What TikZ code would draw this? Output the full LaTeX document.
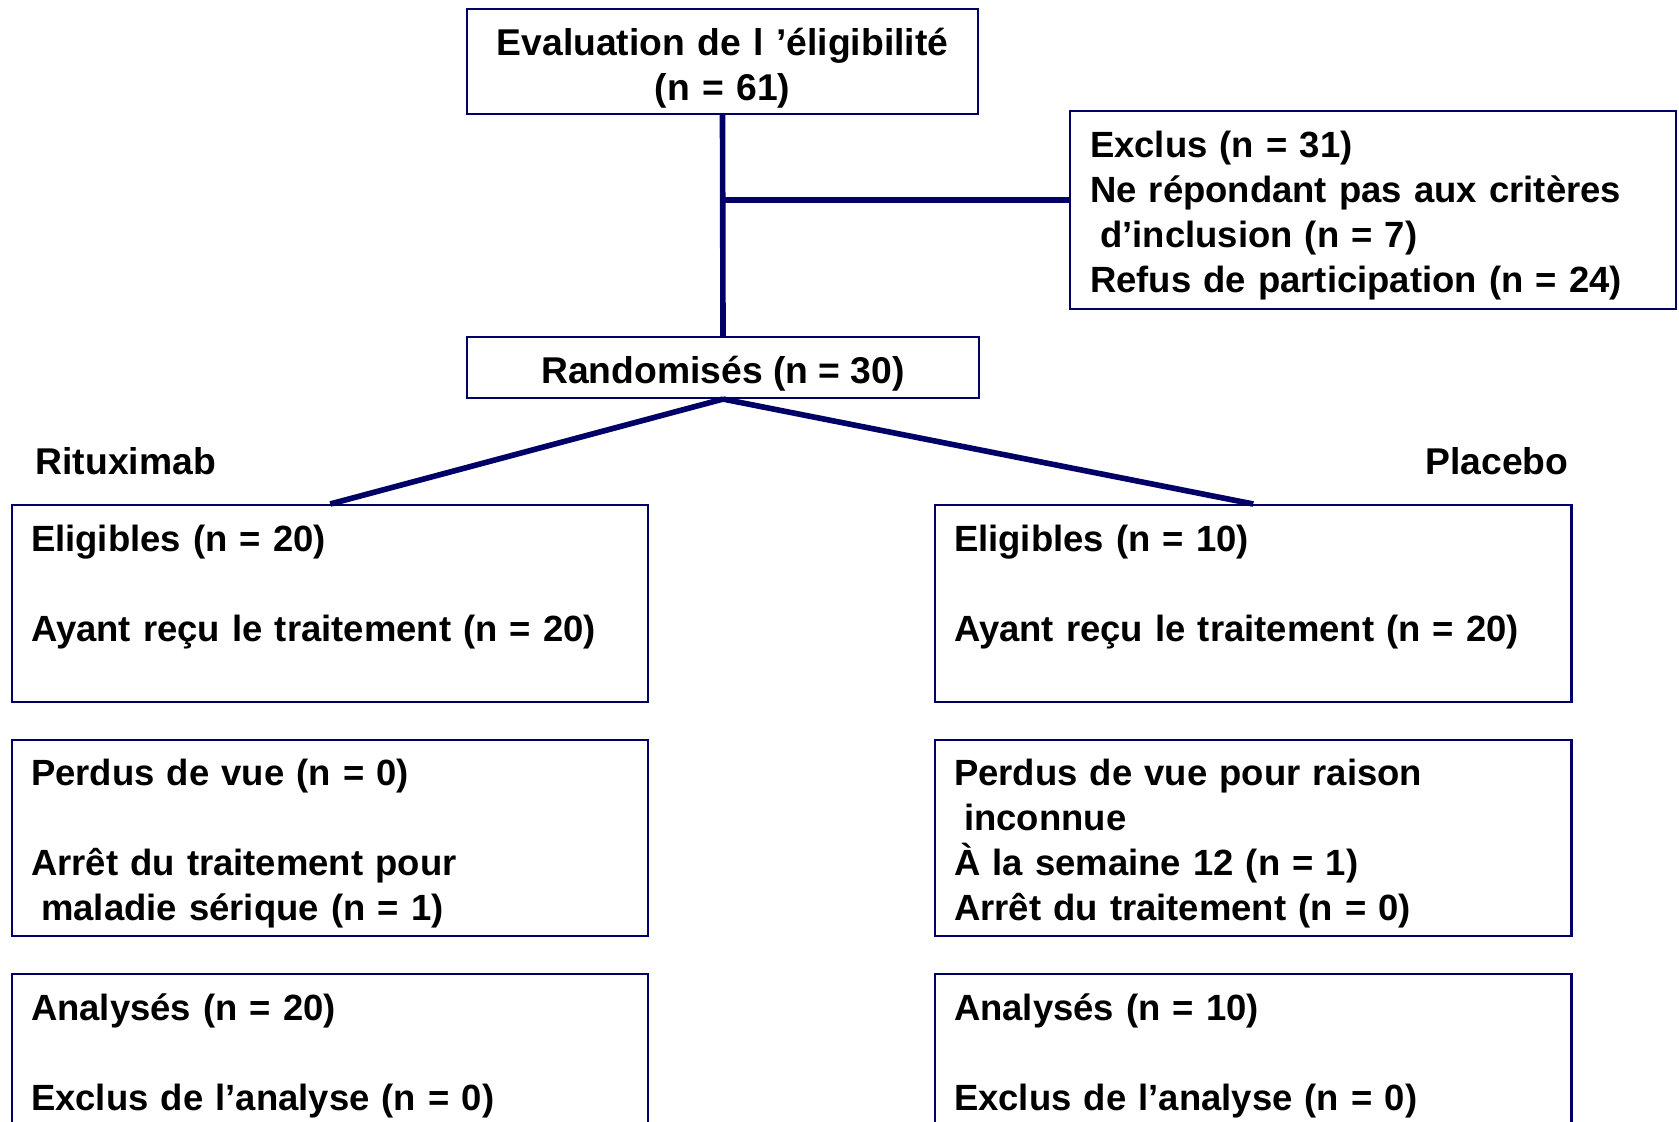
\documentclass[tikz,border=0pt]{standalone}
\usepackage{fontspec}
\setmainfont{Liberation Sans}
\usetikzlibrary{positioning}
\definecolor{bleunuit}{RGB}{0,0,102}

\begin{document}
\begin{tikzpicture}[
        x=0.01cm, y=-0.01cm,
        every node/.style={font=\fontsize{10.37pt}{12.76pt}\selectfont\bfseries},
        grand/.style={font=\fontsize{10.6pt}{12.76pt}\selectfont\bfseries},
        decal/.style={execute at begin node={\rule{0pt}{#1}}},
        boite/.style={draw=bleunuit, line width=0.6pt, rectangle, inner ysep=0pt},
        bloc/.style={boite, align=left, anchor=north west, inner xsep=0.19cm,
            text width=5.98cm, minimum height=1.97cm},
        trait/.style={draw=bleunuit, line width=1.6pt}
    ]
        % cadre de la page
        \useasboundingbox (0,0) rectangle (1679,1122);
        \clip (0,0) rectangle (1679,1122);

        % haut du diagramme
        \node[boite, grand, decal=1.07em, align=center, text width=4.6cm,
            minimum width=5.11cm, minimum height=1.05cm] (eval) at (722.5,61.5)
            {Evaluation de l ’éligibilité\\(n = 61)};
        \node[boite, decal=1.02em, align=left, anchor=north west, inner xsep=0.2cm,
            text width=5.66cm, minimum height=1.98cm] (excl) at (1069,110)
            {Exclus (n = 31)\\Ne répondant pas aux critères\\
             \hspace*{0.28em}d’inclusion (n = 7)\\Refus de participation (n = 24)};
        \node[boite, grand, decal=1.07em, align=center, minimum width=5.12cm,
            minimum height=0.61cm] (rand) at (723,367.5) {Randomisés (n = 30)};
        \coordinate (br) at (723,200);

        % deux bras
        \node[grand, anchor=west, inner sep=0pt] (ritu) at (35,461) {Rituximab};
        \node[grand, anchor=east, inner sep=0pt] (plac) at (1569,461) {Placebo};

        \node[bloc, decal=0.85em] (elig1) at (11,504)
            {Eligibles (n = 20)\\\mbox{}\\Ayant reçu le traitement (n = 20)\\\mbox{}};
        \node[bloc, decal=0.85em] (elig2) at (934,504)
            {Eligibles (n = 10)\\\mbox{}\\Ayant reçu le traitement (n = 20)\\\mbox{}};
        \node[bloc, decal=1.02em, minimum height=1.96cm] (perd1) at (11,739)
            {Perdus de vue (n = 0)\\\mbox{}\\Arrêt du traitement pour\\
             \hspace*{0.28em}maladie sérique (n = 1)};
        \node[bloc, decal=1.02em, minimum height=1.96cm] (perd2) at (934,739)
            {Perdus de vue pour raison\\\hspace*{0.28em}inconnue\\
             À la semaine 12 (n = 1)\\Arrêt du traitement (n = 0)};
        \node[bloc, decal=0.85em] (anal1) at (11,973)
            {Analysés (n = 20)\\\mbox{}\\Exclus de l’analyse (n = 0)\\\mbox{}};
        \node[bloc, decal=0.85em] (anal2) at (934,973)
            {Analysés (n = 10)\\\mbox{}\\Exclus de l’analyse (n = 0)\\\mbox{}};

        % liaisons
        \draw[trait] (eval.south) -- (rand.north);
        \draw[trait] (br) -- (br -| excl.west);
        \draw[trait] (rand.south) -- (elig1.north);
        \draw[trait] (rand.south) -- (elig2.north);
    \end{tikzpicture}
\end{document}
